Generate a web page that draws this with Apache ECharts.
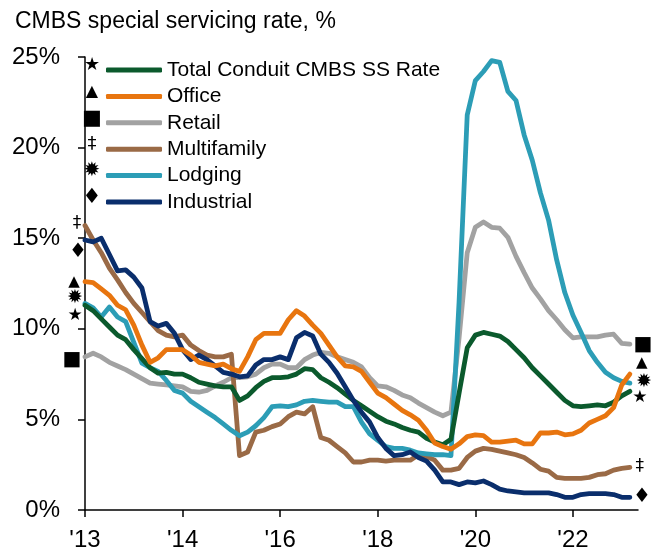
<!DOCTYPE html>
<html>
<head>
<meta charset="utf-8">
<script src="https://cdn.jsdelivr.net/npm/echarts@6/dist/echarts.min.js"></script>
<style>
  html, body { margin: 0; padding: 0; background: #fff; }
  #chart { width: 660px; height: 552px; }
</style>
</head>
<body>
<div id="chart"></div>
<script>
// Bi-monthly observations, Jan 2013 onwards (special servicing rate, %)
const xTickLabels = ["'13", "'14", "'16", "'18", "'20", "'22"];
const seriesNames = ['Total Conduit CMBS SS Rate', 'Office', 'Retail', 'Multifamily', 'Lodging', 'Industrial'];

const total = [11.3, 11.0, 10.55, 10.1, 9.65, 9.4, 8.85, 8.35, 7.85, 7.55,
  7.6, 7.5, 7.5, 7.3, 7.05, 6.95, 6.85, 6.8, 6.8, 6.05,
  6.3, 6.75, 7.1, 7.3, 7.3, 7.35, 7.5, 7.8, 7.75, 7.3,
  7.05, 6.75, 6.4, 6.05, 5.75, 5.45, 5.15, 4.9, 4.75, 4.55,
  4.4, 4.3, 3.95, 3.75, 3.6, 3.9, 6.45, 8.95, 9.65, 9.8,
  9.7, 9.6, 9.3, 8.85, 8.4, 7.85, 7.4, 6.95, 6.5, 6.05,
  5.75, 5.7, 5.75, 5.8, 5.75, 5.95, 6.3, 6.55];

const office = [12.6, 12.55, 12.2, 11.85, 11.3, 11.05, 10.2, 9.1, 8.15, 8.4,
  8.85, 8.85, 8.85, 8.55, 8.15, 8.05, 7.95, 8.05, 7.8, 7.65,
  8.45, 9.4, 9.75, 9.75, 9.75, 10.5, 11.0, 10.7, 10.2, 9.75,
  9.1, 8.45, 7.95, 7.9, 7.65, 7.05, 6.45, 6.2, 5.85, 5.5,
  5.25, 4.95, 4.4, 3.7, 3.5, 3.35, 3.65, 4.05, 4.15, 4.1,
  3.75, 3.75, 3.8, 3.85, 3.65, 3.65, 4.25, 4.25, 4.3, 4.15,
  4.2, 4.4, 4.8, 5.0, 5.2, 5.65, 6.9, 7.5];

const retail = [8.45, 8.65, 8.45, 8.15, 7.95, 7.75, 7.5, 7.25, 7.0, 6.95,
  6.9, 6.85, 6.8, 6.55, 6.5, 6.6, 6.85, 7.05, 7.3, 7.3,
  7.35, 7.5, 7.85, 8.05, 8.05, 7.85, 7.85, 8.3, 8.55, 8.7,
  8.65, 8.45, 8.3, 8.15, 7.9, 7.3, 6.85, 6.8, 6.6, 6.35,
  6.2, 5.9, 5.65, 5.4, 5.2, 5.4, 9.5, 14.2, 15.6, 15.9,
  15.6, 15.55, 15.05, 14.0, 13.1, 12.25, 11.65, 11.0, 10.5, 9.95,
  9.5, 9.55, 9.55, 9.55, 9.65, 9.7, 9.2, 9.15];

const multifamily = [15.7, 14.9, 14.2, 13.35, 12.7, 12.0, 11.4, 10.9, 10.4, 9.9,
  9.65, 9.55, 9.65, 9.1, 8.8, 8.55, 8.45, 8.45, 8.6, 3.0,
  3.2, 4.3, 4.4, 4.6, 4.75, 5.15, 5.4, 5.3, 5.7, 4.0,
  3.85, 3.5, 3.15, 2.65, 2.65, 2.75, 2.75, 2.7, 2.75, 2.75,
  2.75, 3.05, 2.95, 2.75, 2.2, 2.2, 2.3, 2.9, 3.25, 3.4,
  3.35, 3.25, 3.15, 3.05, 2.9, 2.6, 2.25, 2.15, 1.8, 1.75,
  1.75, 1.75, 1.8, 1.95, 2.0, 2.2, 2.3, 2.35];

const lodging = [11.4, 11.15, 10.65, 11.2, 10.65, 10.4, 9.25, 8.1, 7.85, 7.65,
  7.15, 6.6, 6.45, 6.0, 5.7, 5.4, 5.1, 4.75, 4.4, 4.1,
  4.3, 4.65, 5.1, 5.7, 5.75, 5.7, 5.8, 6.0, 6.05, 6.0,
  5.95, 5.95, 5.7, 5.7, 4.85, 4.2, 3.85, 3.5, 3.4, 3.4,
  3.3, 3.15, 3.1, 3.05, 3.05, 3.0, 11.5, 21.8, 23.7, 24.2,
  24.8, 24.7, 23.1, 22.6, 20.7, 19.3, 17.5, 16.0, 13.8, 12.0,
  10.75, 9.8, 8.8, 8.15, 7.6, 7.3, 7.1, 7.0];

const industrial = [14.9, 14.8, 15.0, 14.1, 13.2, 13.25, 12.85, 12.25, 10.4, 10.15,
  10.3, 9.75, 8.85, 8.3, 8.55, 8.3, 7.95, 7.6, 7.5, 7.35,
  7.4, 8.0, 8.3, 8.3, 8.45, 8.3, 9.5, 9.8, 9.6, 8.6,
  8.15, 7.55, 6.8, 6.05, 5.4, 4.85, 4.0, 3.4, 3.0, 3.05,
  3.2, 2.9, 2.7, 2.2, 1.55, 1.55, 1.4, 1.55, 1.5, 1.6,
  1.4, 1.15, 1.05, 1.0, 0.95, 0.95, 0.95, 0.95, 0.85, 0.7,
  0.7, 0.85, 0.9, 0.9, 0.9, 0.85, 0.7, 0.7];

// Styling per series: colour, marker glyph, glyph size, offsets of the start/end markers
const styles = {
  'Total Conduit CMBS SS Rate': { color: '#0B5A2D', glyph: '★', size: 17, left: [-10, 10], right: [10, 6], z: 4 },
  'Office':      { color: '#E8750F', glyph: '▲', size: 15, left: [-11, 0], right: [12, -11], z: 6 },
  'Retail':      { color: '#A2A2A2', glyph: '■', size: 20, left: [-13, 3], right: [13, 1], z: 1 },
  'Multifamily': { color: '#9A6A46', glyph: '‡', size: 17, left: [-8, -2], right: [10, -1], z: 2 },
  'Lodging':     { color: '#2C9DB6', glyph: '✹', size: 19, left: [-10, -5], right: [14, -1], z: 3 },
  'Industrial':  { color: '#0A2E6C', glyph: '♦', size: 20, left: [-7, 12], right: [12, -1], z: 5 }
};
const valuesByName = {
  'Total Conduit CMBS SS Rate': total, 'Office': office, 'Retail': retail,
  'Multifamily': multifamily, 'Lodging': lodging, 'Industrial': industrial
};

const N = total.length;
// one spare slot so the axis runs a little past the last observation
const categories = Array.from({ length: N + 1 }, (_, i) => 'p' + i);

function withMarkers(values, st) {
  return values.map((v, i) => {
    if (i !== 0 && i !== values.length - 1) return v;
    const off = i === 0 ? st.left : st.right;
    return {
      value: v,
      symbol: 'circle',
      symbolSize: 1,
      itemStyle: { color: 'rgba(0,0,0,0)', borderWidth: 0 },
      label: {
        show: true,
        formatter: st.glyph,
        position: [off[0] + 0.5, off[1] + 0.5],
        align: 'center',
        verticalAlign: 'middle',
        color: '#000',
        fontSize: st.size,
        fontFamily: 'DejaVu Sans'
      }
    };
  });
}

const drawOrder = ['Retail', 'Multifamily', 'Lodging', 'Total Conduit CMBS SS Rate', 'Industrial', 'Office'];
const series = drawOrder.map(name => {
  const st = styles[name];
  return {
    name,
    type: 'line',
    data: withMarkers(valuesByName[name], st),
    color: st.color,
    symbol: 'none',
    showSymbol: true,
    showAllSymbol: true,
    z: 2 + st.z,
    silent: true,
    lineStyle: { color: st.color, width: 4.8, cap: 'round', join: 'round' },
    emphasis: { disabled: true },
    animation: false
  };
});

// glyphs beside the legend swatches
const legendGlyphs = seriesNames.map((name, k) => ({
  type: 'text',
  x: 92,
  y: 65.5 + k * 26.4,
  z: 100,
  style: {
    text: styles[name].glyph,
    fill: '#000',
    font: (styles[name].size + 1) + 'px "DejaVu Sans"',
    textAlign: 'center',
    textVerticalAlign: 'middle'
  }
}));

const chart = echarts.init(document.getElementById('chart'), null, { renderer: 'canvas' });
chart.setOption({
  animation: false,
  backgroundColor: '#fff',
  textStyle: { fontFamily: 'Liberation Sans, Arial, sans-serif' },
  title: {
    text: 'CMBS special servicing rate, %',
    left: 10,
    top: 5,
    textStyle: { fontSize: 23, fontWeight: 'normal', color: '#000', fontFamily: 'Liberation Sans' }
  },
  legend: {
    data: seriesNames,
    orient: 'vertical',
    left: 101,
    top: 54.5,
    itemWidth: 56,
    itemHeight: 5,
    itemGap: 5.4,
    icon: 'roundRect',
    selectedMode: false,
    textStyle: { fontSize: 21, color: '#000', fontFamily: 'Liberation Sans' }
  },
  grid: { left: 85, right: 22, top: 57, bottom: 42, containLabel: false },
  xAxis: {
    type: 'category',
    data: categories,
    boundaryGap: false,
    axisLine: { lineStyle: { color: '#000', width: 1.5 } },
    axisTick: { show: true, length: 7, interval: i => i % 12 === 0, lineStyle: { color: '#000', width: 1.5 } },
    axisLabel: {
      interval: i => i % 12 === 0,
      formatter: (v, i) => xTickLabels[i / 12] || '',
      fontSize: 24,
      color: '#000',
      margin: 18,
      fontFamily: 'Liberation Sans'
    },
    splitLine: { show: false }
  },
  yAxis: {
    type: 'value',
    min: 0,
    max: 25,
    interval: 5,
    axisLine: { show: true, lineStyle: { color: '#000', width: 1.5 } },
    axisTick: { show: true, length: 7, lineStyle: { color: '#000', width: 1.5 } },
    axisLabel: { formatter: '{value}%', fontSize: 24, color: '#000', margin: 25, fontFamily: 'Liberation Sans' },
    splitLine: { show: false }
  },
  graphic: legendGlyphs,
  series
});
</script>
</body>
</html>
